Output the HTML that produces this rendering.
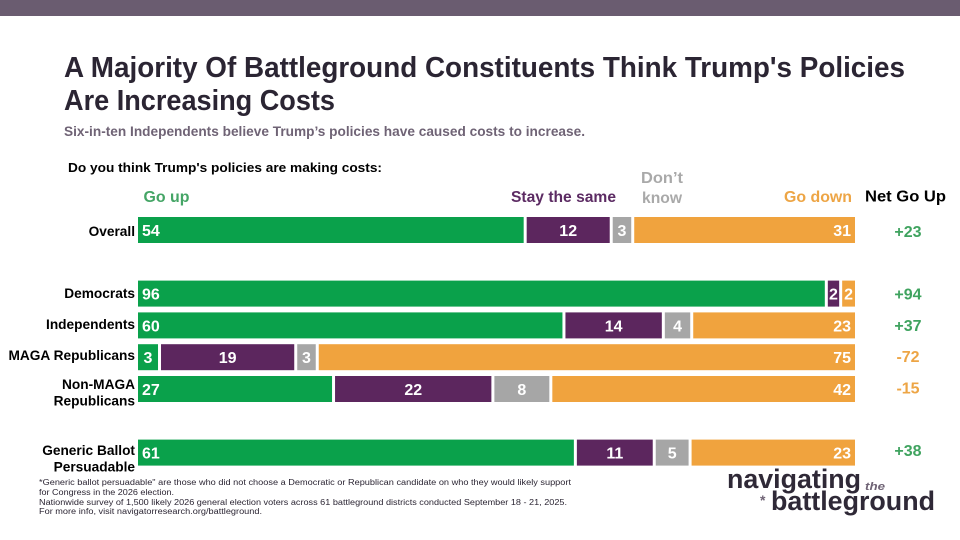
<!DOCTYPE html>
<html lang="en">
<head>
<meta charset="utf-8">
<title>Trump's Policies Are Increasing Costs</title>
<style>
html,body{margin:0;padding:0;background:#fff;}
svg{display:block;font-family:"Liberation Sans",sans-serif;font-weight:bold;}
</style>
</head>
<body>
<svg id="chart" xmlns="http://www.w3.org/2000/svg" width="960" height="540" viewBox="0 0 960 540">
  <rect width="960" height="540" fill="#ffffff"/>
  <rect width="960" height="16" fill="#6a5c70"/>
  <text x="64" y="77" font-size="28.5" fill="#2b2533" textLength="841" lengthAdjust="spacingAndGlyphs">A Majority Of Battleground Constituents Think Trump's Policies</text>
  <text x="64" y="110" font-size="28.5" fill="#2b2533" textLength="271" lengthAdjust="spacingAndGlyphs">Are Increasing Costs</text>
  <text x="64" y="136" font-size="13.5" fill="#6f6375" textLength="521" lengthAdjust="spacingAndGlyphs">Six-in-ten Independents believe Trump’s policies have caused costs to increase.</text>
  <text x="68" y="172" font-size="13" fill="#000000" textLength="314" lengthAdjust="spacingAndGlyphs">Do you think Trump's policies are making costs:</text>
  <text x="143.5" y="202" font-size="16" fill="#45a566" textLength="46" lengthAdjust="spacingAndGlyphs">Go up</text>
  <text x="511" y="202" font-size="16" fill="#5c2b63" textLength="105" lengthAdjust="spacingAndGlyphs">Stay the same</text>
  <text x="641" y="183" font-size="16" fill="#a9a9a9" textLength="42" lengthAdjust="spacingAndGlyphs">Don’t</text>
  <text x="642" y="203" font-size="16" fill="#a9a9a9" textLength="40" lengthAdjust="spacingAndGlyphs">know</text>
  <text x="784" y="202" font-size="16" fill="#eda545" textLength="68" lengthAdjust="spacingAndGlyphs">Go down</text>
  <text x="865" y="201.5" font-size="16" fill="#000000" textLength="81" lengthAdjust="spacingAndGlyphs">Net Go Up</text>
  <g id="rows"></g>
  <g font-size="8" font-weight="normal" fill="#2b2533">
    <text x="39" y="485" textLength="532" lengthAdjust="spacingAndGlyphs">*Generic ballot persuadable" are those who did not choose a Democratic or Republican candidate on who they would likely support</text>
    <text x="39" y="495" textLength="135" lengthAdjust="spacingAndGlyphs">for Congress in the 2026 election.</text>
    <text x="39" y="505" textLength="528" lengthAdjust="spacingAndGlyphs">Nationwide survey of 1,500 likely 2026 general election voters across 61 battleground districts conducted September 18 - 21, 2025.</text>
    <text x="39" y="514" textLength="223" lengthAdjust="spacingAndGlyphs">For more info, visit navigatorresearch.org/battleground.</text>
  </g>
  <g fill="#2f2937">
    <text x="727" y="488" font-size="27" textLength="134" lengthAdjust="spacingAndGlyphs">navigating</text>
    <text x="865" y="490" font-size="11" font-style="italic" fill="#6f6375" textLength="20" lengthAdjust="spacingAndGlyphs">the</text>
    <text x="760" y="505" font-size="14" fill="#6f6375">*</text>
    <text x="771" y="510" font-size="27" textLength="164" lengthAdjust="spacingAndGlyphs">battleground</text>
  </g>
</svg>
<script>
const categories = [["Overall"], ["Democrats"], ["Independents"], ["MAGA Republicans"], ["Non-MAGA", "Republicans"], ["Generic Ballot", "Persuadable"]];
const groups = ["all", "party", "party", "party", "party", "persuadable"];
const goUp = [54, 96, 60, 3, 27, 61];
const staySame = [12, 2, 14, 19, 22, 11];
const dontKnow = [3, 0, 4, 3, 8, 5];
const goDown = [31, 2, 23, 75, 42, 23];
const netGoUp = ["+23", "+94", "+37", "-72", "-15", "+38"];

const svgNS = "http://www.w3.org/2000/svg";
const rowsLayer = document.getElementById("rows");
const seriesList = [
  { key: "go-up", values: goUp, color: "#0aa14b" },
  { key: "stay-the-same", values: staySame, color: "#5c265e" },
  { key: "dont-know", values: dontKnow, color: "#a6a6a6" },
  { key: "go-down", values: goDown, color: "#f0a33e" }
];

function xAxis(share) { return 138 + share * 717; }
function slotOf(i) {
  let slot = i;
  for (let k = 1; k <= i; k++) { if (groups[k] !== groups[k - 1]) slot += 1; }
  return slot;
}
function rowTop(slot) { return 217 + slot * 31.8; }
function netBaseline(slot) { return 237 + slot * 31.3; }
function labelBaseline(lineCount, n, slot) {
  if (lineCount === 1) return 236 + slot * 31;
  return 389 + (slot - 5) * 33 + n * 16.5;
}
function makeText(str, x, y, size, fill, anchor) {
  const t = document.createElementNS(svgNS, "text");
  t.setAttribute("x", x);
  t.setAttribute("y", y);
  t.setAttribute("font-size", size);
  t.setAttribute("fill", fill);
  t.setAttribute("text-anchor", anchor);
  t.textContent = str;
  return t;
}

categories.forEach(function (lines, i) {
  const slot = slotOf(i);
  const top = rowTop(slot);
  const total = seriesList.reduce(function (sum, s) { return sum + s.values[i]; }, 0);

  lines.forEach(function (line, n) {
    const label = makeText(line, 135, labelBaseline(lines.length, n, slot), 13.7, "#000000", "end");
    
    
    rowsLayer.appendChild(label);
  });

  let cumulative = 0;
  let lastKey = "";
  seriesList.forEach(function (s) { if (s.values[i] > 0) lastKey = s.key; });
  seriesList.forEach(function (s) {
    const v = s.values[i];
    if (v <= 0) return;
    const isFirst = cumulative === 0;
    const isLast = s.key === lastKey;
    const x0 = xAxis(cumulative / total) + (isFirst ? 0 : 1.5);
    const x1 = xAxis((cumulative + v) / total) - (isLast ? 0 : 1.5);
    cumulative += v;

    const bar = document.createElementNS(svgNS, "rect");
    bar.setAttribute("x", x0);
    bar.setAttribute("y", top);
    bar.setAttribute("width", x1 - x0);
    bar.setAttribute("height", 26);
    bar.setAttribute("fill", s.color);
    
    
    rowsLayer.appendChild(bar);

    const wide = x1 - x0 > 25;
    let lx = (x0 + x1) / 2;
    let anchor = "middle";
    if (wide && isFirst) { lx = x0 + 4; anchor = "start"; }
    if (wide && isLast) { lx = x1 - 4; anchor = "end"; }
    const value = makeText(String(v), lx, top + 19, 16, "#ffffff", anchor);
    
    
    rowsLayer.appendChild(value);
  });

  const netColor = netGoUp[i].charAt(0) === "+" ? "#3fa35f" : "#eda545";
  const net = makeText(netGoUp[i], 908, netBaseline(slot), 16, netColor, "middle");
  
  
  rowsLayer.appendChild(net);
});
</script>
</body>
</html>
